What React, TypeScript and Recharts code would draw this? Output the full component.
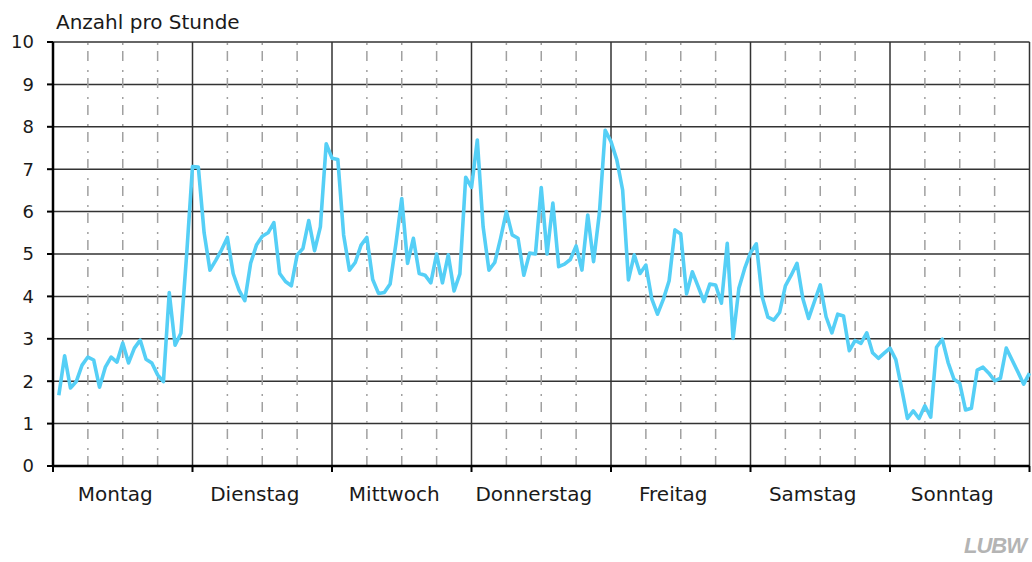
import React from "react";
import { LineChart, Line, XAxis, YAxis, CartesianGrid, ReferenceLine } from "recharts";

// Hourly counts, one array per weekday (hour 1..24 of each day)
const montag = [1.67, 2.6, 1.84, 1.99, 2.38, 2.57, 2.5, 1.86, 2.33, 2.57, 2.45, 2.9, 2.43, 2.78, 2.97, 2.52, 2.43, 2.15, 1.99, 4.09, 2.85, 3.13, 5.0, 7.06];
const dienstag = [7.05, 5.5, 4.62, 4.85, 5.1, 5.39, 4.54, 4.15, 3.9, 4.78, 5.21, 5.42, 5.5, 5.74, 4.54, 4.35, 4.25, 4.98, 5.13, 5.79, 5.08, 5.64, 7.6, 7.26];
const mittwoch = [7.23, 5.45, 4.62, 4.8, 5.21, 5.39, 4.4, 4.07, 4.09, 4.29, 5.25, 6.31, 4.78, 5.37, 4.54, 4.5, 4.32, 5.0, 4.32, 4.98, 4.13, 4.53, 6.81, 6.57];
const donnerstag = [7.69, 5.64, 4.62, 4.8, 5.37, 6.0, 5.45, 5.37, 4.5, 5.02, 5.0, 6.57, 5.0, 6.2, 4.7, 4.76, 4.87, 5.19, 4.62, 5.92, 4.82, 5.96, 7.92, 7.65];
const freitag = [7.22, 6.51, 4.39, 4.98, 4.54, 4.74, 3.95, 3.58, 3.93, 4.37, 5.57, 5.47, 4.06, 4.58, 4.23, 3.88, 4.29, 4.27, 3.84, 5.25, 3.01, 4.19, 4.66, 5.03];
const samstag = [5.24, 3.99, 3.51, 3.44, 3.62, 4.25, 4.5, 4.78, 3.95, 3.48, 3.88, 4.27, 3.52, 3.14, 3.58, 3.54, 2.72, 2.96, 2.89, 3.14, 2.67, 2.54, 2.66, 2.78];
const sonntag = [2.51, 1.83, 1.12, 1.3, 1.12, 1.42, 1.15, 2.8, 2.99, 2.44, 2.05, 1.95, 1.32, 1.36, 2.26, 2.33, 2.19, 2.01, 2.07, 2.78, 2.5, 2.22, 1.93, 2.19];

const dayNames = ["Montag", "Dienstag", "Mittwoch", "Donnerstag", "Freitag", "Samstag", "Sonntag"];
const dayBoundaries = [0, 24, 48, 72, 96, 120, 144, 168];
const sixHourMarks = Array.from({ length: 28 }, (_, i) => i * 6).filter((h) => h % 24 !== 0);
const yTicks = [0, 1, 2, 3, 4, 5, 6, 7, 8, 9, 10];

const values = [...montag, ...dienstag, ...mittwoch, ...donnerstag, ...freitag, ...samstag, ...sonntag];
const data = values.map((v, i) => ({ hour: i + 1, value: v }));

const W = 1032;
const H = 562;
const MARGIN = { top: 42, right: 2.5, left: 0, bottom: 56 };
const Y_AXIS_W = 53;
const dayPx = (W - MARGIN.left - MARGIN.right - Y_AXIS_W) / 7;
const FONT = "'DejaVu Sans', sans-serif";

const DayTick = (props: any) => {
  const { x, y, payload } = props;
  const idx = payload.index ?? dayBoundaries.indexOf(payload.value);
  if (idx >= dayNames.length) return null;
  return (
    <text x={x + dayPx / 2 - 7.5} y={y} dy="0.71em" textAnchor="middle" fontSize={20} fontFamily={FONT} fill="#1a1a1a">
      {dayNames[idx]}
    </text>
  );
};

export default function App() {
  return (
    <div style={{ position: "absolute", left: 0, top: 0, width: W, height: H, background: "#fff" }}>
      <LineChart width={W} height={H} data={data} margin={MARGIN}>
        <CartesianGrid stroke="#333" strokeWidth={1.5} horizontal vertical />
        {sixHourMarks.map((h) => (
          <ReferenceLine key={h} x={h} stroke="#a0a0a0" strokeWidth={1.5} strokeDasharray="10 6 2 9" />
        ))}
        <XAxis
          dataKey="hour"
          type="number"
          domain={[0, 168]}
          ticks={dayBoundaries}
          interval={0}
          height={40}
          axisLine={{ stroke: "#000", strokeWidth: 2.5 }}
          tickLine={{ stroke: "#000", strokeWidth: 2 }}
          tickSize={6}
          tickMargin={15}
          tick={<DayTick />}
        />
        <YAxis
          domain={[0, 10]}
          ticks={yTicks}
          interval={0}
          width={Y_AXIS_W}
          axisLine={{ stroke: "#000", strokeWidth: 2.5 }}
          tickLine={{ stroke: "#000", strokeWidth: 2 }}
          tickSize={6}
          tickMargin={13}
          tick={{ fontSize: 18, fontFamily: FONT, fill: "#1a1a1a" }}
        />
        <Line
          type="linear"
          dataKey="value"
          stroke="#55cff6"
          strokeWidth={3.6}
          dot={false}
          strokeLinejoin="round"
          isAnimationActive={false}
        />
      </LineChart>
      <svg width={W} height={H} style={{ position: "absolute", left: 0, top: 0, pointerEvents: "none" }}>
        <text x={56} y={29} fontSize={20} fontFamily={FONT} fill="#1a1a1a">
          Anzahl pro Stunde
        </text>
        <text
          x={1026}
          y={553}
          textAnchor="end"
          fontSize={22}
          fontWeight="bold"
          fontStyle="italic"
          letterSpacing={-1}
          fontFamily="'Liberation Sans', sans-serif"
          fill="#b4b4b4"
        >
          LUBW
        </text>
      </svg>
    </div>
  );
}
